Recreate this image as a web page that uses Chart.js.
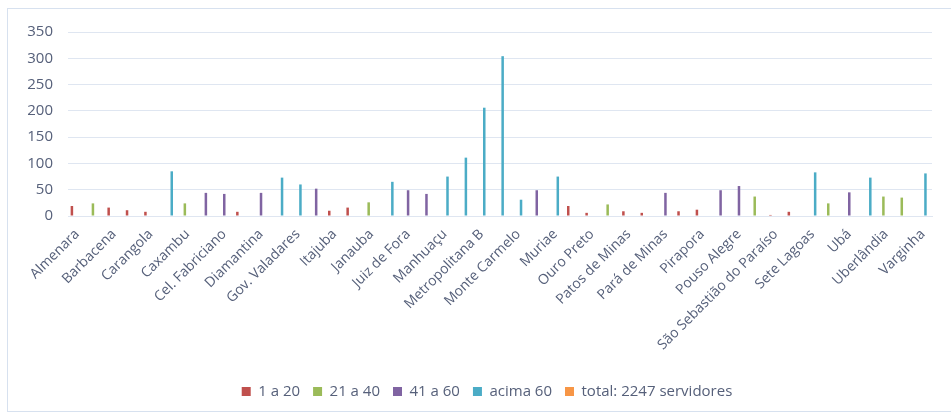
<!DOCTYPE html>
<html lang="pt-BR">
<head>
<meta charset="utf-8">
<title>Servidores por SRE e faixa</title>
<script src="https://cdn.jsdelivr.net/npm/chart.js@4.4.1/dist/chart.umd.min.js"></script>
<style>
  html, body { margin: 0; padding: 0; background: #ffffff; }
  #wrap { position: relative; width: 951px; height: 415px; overflow: hidden; }
  #frame {
    position: absolute; left: 7px; top: 8px; width: 960px; height: 404px;
    border: 1px solid #d7e1ef; box-sizing: border-box; pointer-events: none;
  }
  canvas { position: absolute; left: 0; top: 0; }
</style>
</head>
<body>
<div id="wrap">
  <canvas id="chart" width="951" height="415"></canvas>
  <div id="frame"></div>
</div>
<script>
// Superintendências regionais (only every other name is printed on the axis)
const categories = [
  "Almenara", "Araçuaí", "Barbacena", "Campo Belo", "Carangola", "Caratinga",
  "Caxambu", "Cons. Lafaiete", "Cel. Fabriciano", "Curvelo", "Diamantina", "Divinópolis",
  "Gov. Valadares", "Guanhães", "Itajuba", "Ituiutaba", "Janauba", "Januária",
  "Juiz de Fora", "Leopoldina", "Manhuaçu", "Metropolitana A", "Metropolitana B", "Metropolitana C",
  "Monte Carmelo", "Montes Claros", "Muriae", "Nova Era", "Ouro Preto", "Paracatu",
  "Patos de Minas", "Patrocínio", "Pará de Minas", "Passos", "Pirapora", "Poços de Caldas",
  "Pouso Alegre", "São João del Rei", "São Sebastião do Paraíso", "Ponte Nova", "Sete Lagoas", "Teófilo Otoni",
  "Ubá", "Uberaba", "Uberlândia", "Unaí", "Varginha"
];

const seriesNames = ["1 a 20", "21 a 40", "41 a 60", "acima 60", "total: 2247 servidores"];

const faixa1a20 = [
  19, null, 16, 11, 8, null, null, null, null, 8,
  null, null, null, null, 10, 16, null, null, null, null,
  null, null, null, null, null, null, null, 19, 6, null,
  9, 6, null, 9, 12, null, null, null, 2, 8,
  null, null, null, null, null, null, null
];
const faixa21a40 = [
  null, 24, null, null, null, null, 24, null, null, null,
  null, null, null, null, null, null, 26, null, null, null,
  null, null, null, null, null, null, null, null, null, 22,
  null, null, null, null, null, null, null, 37, null, null,
  null, 24, null, null, 37, 35, null
];
const faixa41a60 = [
  null, null, null, null, null, null, null, 44, 42, null,
  44, null, null, 52, null, null, null, null, 49, 42,
  null, null, null, null, null, 49, null, null, null, null,
  null, null, 44, null, null, 49, 57, null, null, null,
  null, null, 45, null, null, null, null
];
const acima60 = [
  null, null, null, null, null, 85, null, null, null, null,
  null, 73, 60, null, null, null, null, 65, null, null,
  75, 111, 206, 304, 31, null, 75, null, null, null,
  null, null, null, null, null, null, null, null, null, null,
  83, null, null, 73, null, null, 81
];
// the "total" entry only appears in the legend
const totalServidores = categories.map(() => null);

const yTicks = [0, 50, 100, 150, 200, 250, 300, 350];

const colors = ["#c0504d", "#9bbb59", "#8064a2", "#4bacc6", "#f79646"];
const textColor = "#56607a";
const gridColor = "#dfe6f1";
const fontFamily = "'Open Sans'";

// nudges the legend row a little to the right of the canvas centre
const legendOffset = {
  id: "legendOffset",
  afterLayout(chart) {
    if (chart.legend) {
      chart.legend.left += 9;
      chart.legend.right += 9;
    }
  }
};

function build() {
  const seriesData = [faixa1a20, faixa21a40, faixa41a60, acima60, totalServidores];
  const datasets = seriesData.map((d, i) => ({
    label: seriesNames[i],
    data: d,
    backgroundColor: colors[i],
    borderWidth: 0,
    categoryPercentage: 0.72,
    barPercentage: 0.95
  }));

  new Chart(document.getElementById("chart"), {
    type: "bar",
    data: { labels: categories, datasets },
    plugins: [legendOffset],
    options: {
      responsive: false,
      animation: false,
      layout: { padding: { left: 24, right: 19, top: 32, bottom: 6 } },
      plugins: {
        tooltip: { enabled: false },
        legend: {
          position: "bottom",
          labels: {
            color: textColor,
            font: { family: fontFamily, size: 15 },
            boxWidth: 9,
            boxHeight: 9,
            padding: 13
          }
        }
      },
      scales: {
        x: {
          grid: { display: false, drawTicks: false },
          border: { display: true, color: gridColor },
          ticks: {
            autoSkip: false,
            minRotation: 45,
            maxRotation: 45,
            padding: 10,
            color: textColor,
            font: { family: fontFamily, size: 14 },
            callback: function (v, i) { return i % 2 === 0 ? this.getLabelForValue(v) : ""; }
          },
          afterFit: (s) => { s.height = 155; }
        },
        y: {
          min: yTicks[0],
          max: yTicks[yTicks.length - 1],
          afterBuildTicks: (s) => { s.ticks = yTicks.map(v => ({ value: v })); },
          grid: { color: gridColor, drawTicks: false },
          border: { display: false },
          ticks: {
            padding: 15,
            color: textColor,
            font: { family: fontFamily, size: 15 }
          },
          afterFit: (s) => { s.width = 44; }
        }
      }
    }
  });
}

if (document.fonts && document.fonts.load) {
  Promise.all([document.fonts.load("15px 'Open Sans'"), document.fonts.load("14px 'Open Sans'")]).then(build, build);
} else {
  build();
}
</script>
</body>
</html>
